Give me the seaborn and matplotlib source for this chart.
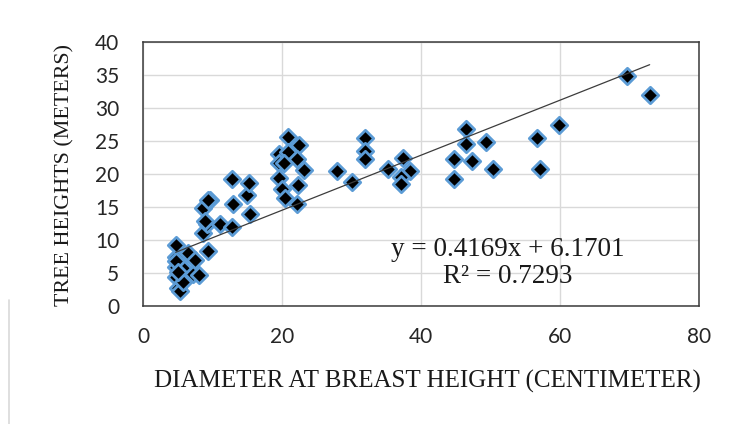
import numpy as np
import pandas as pd
import seaborn as sns
import matplotlib.pyplot as plt
from matplotlib.lines import Line2D

# DBH (cm) vs tree height (m)
dbh = [4.7, 4.7, 4.8, 4.8, 5.1, 5.3, 5.8, 5.8, 6.5, 7.2, 7.5, 8.0, 4.7, 5.0,
       8.7, 9.2, 9.4, 11.1, 12.8, 8.7, 8.9, 9.6, 9.4, 12.8, 13.0, 14.9, 15.2, 15.4,
       19.5, 20.9, 22.4, 20.9, 22.2, 19.5, 20.3, 23.1, 19.6, 22.3, 20.0, 20.5, 22.1,
       27.9, 30.1, 32.0, 32.0, 32.0, 35.2, 37.4, 38.4, 37.1, 37.1,
       44.7, 44.7, 46.5, 46.5, 47.3, 49.4, 50.3, 56.7, 57.1, 59.9, 69.7, 72.9]
height = [7.5, 5.9, 9.2, 4.4, 2.7, 2.2, 5.7, 3.7, 8.0, 4.9, 7.0, 4.7, 6.8, 5.2,
          11.0, 12.5, 8.4, 12.4, 12.0, 14.8, 12.9, 16.0, 16.0, 19.3, 15.5, 16.8, 18.6, 14.0,
          23.0, 25.6, 24.4, 23.3, 22.2, 21.6, 21.6, 20.6, 19.4, 18.3, 17.8, 16.3, 15.4,
          20.5, 18.8, 25.5, 23.5, 22.3, 20.7, 22.5, 20.5, 19.5, 18.5,
          22.2, 19.3, 26.8, 24.6, 21.9, 24.9, 20.7, 25.5, 20.7, 27.4, 34.8, 31.9]

# linear trendline as printed on the chart
slope = 0.4169
intercept = 6.1701
r_squared = 0.7293

df = pd.DataFrame({"dbh": dbh, "height": height})

sns.set_style("white")
fig = plt.figure(figsize=(7.32, 4.24), dpi=100)
ax = fig.add_axes([143 / 732, 1 - 306 / 424, 556 / 732, 264 / 424])

ax.grid(True, color="#d9d9d9", linewidth=1.0)
ax.set_axisbelow(True)

# trendline
xs = np.array([df["dbh"].min(), df["dbh"].max()])
ax.plot(xs, slope * xs + intercept, color="#3c3c3c", linewidth=0.9, zorder=3)

sns.scatterplot(data=df, x="dbh", y="height", marker="D", s=70,
                color="black", edgecolor="#5b9bd5", linewidth=2.0, ax=ax, zorder=2)

ax.set_xlim(0, 80)
ax.set_ylim(0, 40)
ax.set_xticks([0, 20, 40, 60, 80])
ax.set_yticks(range(0, 41, 5))
ax.tick_params(axis="both", length=0, labelsize=15, labelcolor="#262626")
ax.tick_params(axis="y", pad=17)
ax.tick_params(axis="x", pad=15)
for lab in ax.get_xticklabels() + ax.get_yticklabels():
    lab.set_family("Lato")

for sp in ax.spines.values():
    sp.set_color("#3a3a3a")
    sp.set_linewidth(1.1)

serif = "Liberation Serif"
ax.set_xlabel("DIAMETER AT BREAST HEIGHT (CENTIMETER)", family=serif,
              fontsize=18, color="#1a1a1a", va="center")
ax.xaxis.set_label_coords(0.5117, -0.284)
ax.set_ylabel("TREE HEIGHTS (METERS)", family=serif, fontsize=15.8,
              color="#1a1a1a", va="center")
ax.yaxis.set_label_coords(-0.140, 0.497)

ax.text(0.6565, 0.214, f"y = {slope}x + {intercept}", transform=ax.transAxes,
        ha="center", va="center", family=serif, fontsize=19.5, color="#1a1a1a")
ax.text(0.6565, 0.110, f"R\u00b2 = {r_squared}", transform=ax.transAxes,
        ha="center", va="center", family=serif, fontsize=19.5, color="#1a1a1a")

# faint edge of the surrounding chart frame
fig.add_artist(Line2D([9 / 732, 9 / 732], [0, 1 - 300 / 424],
                      color="#d9d9d9", linewidth=1.2))

fig.savefig("out.png", dpi=100)
